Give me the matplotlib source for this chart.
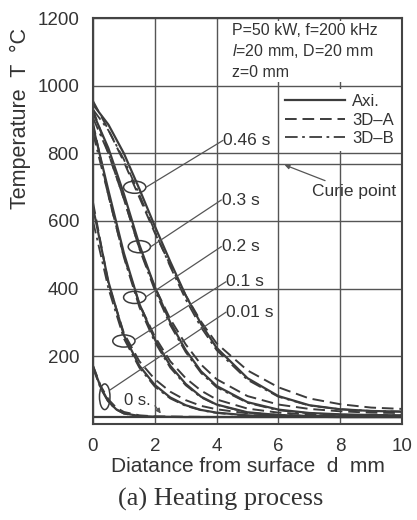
import matplotlib

matplotlib.use("Agg")
import matplotlib.pyplot as plt
from matplotlib.patches import Ellipse

plt.rcParams["font.family"] = ["Liberation Sans", "DejaVu Sans"]
plt.rcParams["mathtext.fontset"] = "custom"
plt.rcParams["mathtext.rm"] = "Liberation Sans"
plt.rcParams["mathtext.it"] = "Liberation Sans:italic"

# distance from surface (mm)
d = [0, 0.5, 1, 1.5, 2, 2.5, 3, 3.5, 4, 5, 6, 7, 8, 9, 10]
d_fine = [0, 0.25, 0.5, 0.75, 1, 1.5, 2, 3, 4, 6, 8, 10]

# temperature profiles (deg C)
axi_046 = [945, 885, 800, 695, 585, 480, 380, 295, 225, 135, 82, 55, 43, 38, 36]
a3d_046 = [955, 870, 775, 670, 565, 470, 380, 302, 238, 158, 108, 75, 58, 48, 44]
b3d_046 = [930, 868, 782, 678, 570, 465, 368, 285, 218, 130, 80, 54, 43, 38, 36]

axi_03 = [920, 815, 680, 530, 405, 300, 218, 155, 112, 64, 42, 32, 28, 26, 25]
a3d_03 = [930, 800, 665, 520, 405, 310, 235, 175, 132, 82, 57, 44, 37, 33, 32]
b3d_03 = [905, 800, 665, 518, 395, 292, 212, 150, 108, 62, 40, 31, 27, 25, 25]

axi_02 = [880, 690, 505, 355, 250, 172, 118, 80, 57, 34, 26, 23, 22, 21, 21]
a3d_02 = [890, 675, 495, 355, 258, 185, 135, 98, 72, 45, 33, 28, 25, 24, 24]
b3d_02 = [860, 675, 492, 345, 242, 166, 114, 78, 56, 33, 26, 23, 22, 21, 21]

axi_01 = [640, 420, 262, 172, 115, 78, 55, 41, 33, 25, 22, 21, 20, 20, 20]
a3d_01 = [655, 415, 268, 185, 132, 95, 70, 53, 43, 31, 26, 23, 22, 21, 21]
b3d_01 = [600, 400, 252, 166, 110, 75, 53, 40, 32, 24, 21, 20, 20, 20, 20]

axi_001 = [170, 108, 66, 43, 31, 23, 21, 20, 20, 20, 20, 20]
a3d_001 = [172, 112, 72, 48, 35, 25, 22, 21, 20, 20, 20, 20]
b3d_001 = [165, 104, 64, 42, 30, 22, 20, 20, 20, 20, 20, 20]

ambient = 20      # 0 s
curie = 770

col = "#3c3c3c"
txt = "#333333"
ls_a = (0, (6, 3))
ls_b = (0, (7, 2.5, 1.5, 2.5))

fig = plt.figure(figsize=(4.17, 5.20), dpi=100)
ax = fig.add_axes([0.223, 0.185, 0.741, 0.780])

for axi, a3d, b3d in [(axi_046, a3d_046, b3d_046), (axi_03, a3d_03, b3d_03),
                      (axi_02, a3d_02, b3d_02), (axi_01, a3d_01, b3d_01)]:
    ax.plot(d, axi, color=col, lw=1.6)
    ax.plot(d, a3d, color=col, lw=1.4, ls=ls_a)
    ax.plot(d, b3d, color=col, lw=1.3, ls=ls_b)
ax.plot(d_fine, axi_001, color=col, lw=1.6)
ax.plot(d_fine, a3d_001, color=col, lw=1.4, ls=ls_a)
ax.plot(d_fine, b3d_001, color=col, lw=1.3, ls=ls_b)
ax.axhline(ambient, color=col, lw=1.6)
ax.axhline(curie, color="#555555", lw=1.0)

ax.set_xlim(0, 10)
ax.set_ylim(0, 1200)
ax.set_xticks([0, 2, 4, 6, 8, 10])
ax.set_yticks([200, 400, 600, 800, 1000, 1200])
ax.tick_params(length=0, labelsize=13.5, colors=txt, pad=10)
ax.grid(True, color="#555555", lw=1.0)
for s in ax.spines.values():
    s.set_color("#444444")
    s.set_linewidth(1.5)

# ellipses marking each time group + label leaders
groups = [
    ("0.46 s", (1.35, 700), 0.72, 36, (1.72, 700), (4.2, 838)),
    ("0.3 s", (1.5, 524), 0.72, 36, (1.87, 524), (4.15, 662)),
    ("0.2 s", (1.35, 374), 0.72, 36, (1.72, 376), (4.15, 524)),
    ("0.1 s", (1.0, 245), 0.72, 36, (1.38, 250), (4.3, 420)),
    ("0.01 s", (0.38, 80), 0.34, 76, (0.55, 100), (4.3, 330)),
]
for lab, c, w, h, p0, p1 in groups:
    ax.add_patch(Ellipse(c, w, h, fill=False, ec=col, lw=1.1, zorder=4))
    ax.plot([p0[0], p1[0]], [p0[1], p1[1]], color="#555555", lw=0.9, zorder=4)
    ax.text(p1[0] + 0.02, p1[1], lab, fontsize=12.5, va="center", ha="left", color=txt)

ax.text(1.42, 68, "0 s.", fontsize=12, va="center", ha="center", color=txt)
ax.annotate("", xy=(2.25, 24), xytext=(1.95, 60),
            arrowprops=dict(arrowstyle="-|>", color="#555555", lw=0.9, mutation_scale=7))

ax.annotate("Curie point", xy=(6.2, 766), xytext=(8.45, 686), fontsize=12.5, ha="center",
            va="center", color=txt,
            arrowprops=dict(arrowstyle="-|>", color="#555555", lw=0.9, mutation_scale=7,
                            shrinkB=0, shrinkA=2))

ax.text(4.5, 1187, "P=50 kW, f=200 kHz\n$\\mathit{l}$=20 mm, D=20 mm\nz=0 mm",
        fontsize=11.5, va="top", ha="left", color=txt, linespacing=1.35,
        bbox=dict(fc="white", ec="none", pad=1.5), zorder=5)

h1, = ax.plot([], [], color=col, lw=1.6, label="Axi.")
h2, = ax.plot([], [], color=col, lw=1.4, ls=ls_a, label="3D–A")
h3, = ax.plot([], [], color=col, lw=1.3, ls=ls_b, label="3D–B")
leg = ax.legend(handles=[h1, h2, h3], loc="upper right", bbox_to_anchor=(0.99, 0.825),
                fontsize=12, handlelength=3.6, handletextpad=0.45, labelspacing=0.2,
                frameon=True, fancybox=False, borderpad=0.3, borderaxespad=0)
leg.get_frame().set_edgecolor("none")
leg.get_frame().set_facecolor("white")
leg.get_frame().set_alpha(1.0)
for t in leg.get_texts():
    t.set_color(txt)

fig.text(0.048, 0.772, "Temperature  T  °C", rotation=90, fontsize=15.5, ha="center",
         va="center", color=txt)
fig.text(0.595, 0.102, "Diatance from surface  d  mm", fontsize=15, ha="center",
         va="center", color=txt)
fig.text(0.53, 0.04, "(a) Heating process", fontsize=19, ha="center", va="center",
         family=["Liberation Serif", "DejaVu Serif"], color=txt)

fig.savefig("out.png", dpi=100)
